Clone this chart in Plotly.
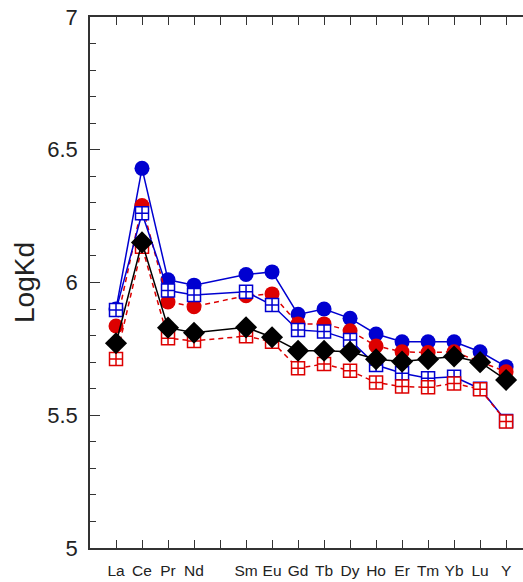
import plotly.graph_objects as go

elements = ["La", "Ce", "Pr", "Nd", "Pm", "Sm", "Eu", "Gd", "Tb", "Dy", "Ho", "Er", "Tm", "Yb", "Lu", "Y"]
x_pos = list(range(1, len(elements) + 1))
tick_text = ["" if e == "Pm" else e for e in elements]

N = None
blue_circle = [5.90, 6.43, 6.01, 5.99, N, 6.03, 6.04, 5.88, 5.90, 5.865, 5.806, 5.777, 5.777, 5.777, 5.739, 5.683]
red_circle = [5.836, 6.29, 5.927, 5.909, N, 5.95, 5.957, 5.844, 5.844, 5.818, 5.761, 5.739, 5.736, 5.739, 5.702, 5.664]
blue_square = [5.896, 6.261, 5.97, 5.953, N, 5.965, 5.915, 5.821, 5.815, 5.783, 5.689, 5.658, 5.639, 5.645, 5.60, 5.478]
red_square = [5.712, 6.135, 5.79, 5.78, N, 5.798, 5.777, 5.677, 5.693, 5.668, 5.623, 5.608, 5.605, 5.62, 5.598, 5.476]
black_diamond = [5.771, 6.151, 5.83, 5.811, N, 5.831, 5.794, 5.743, 5.743, 5.739, 5.711, 5.702, 5.711, 5.721, 5.70, 5.633]

BLUE = "#0000D0"
RED = "#DD0000"
BLACK = "#000000"

fig = go.Figure()

def add(y, color, symbol, size, dash, fill=None, lw=1.5):
    fig.add_trace(go.Scatter(
        x=x_pos, y=y, mode="lines+markers", connectgaps=True,
        line=dict(color=color, width=lw, dash=dash),
        marker=dict(symbol=symbol, size=size, color=fill if fill else color,
                    line=dict(color=color, width=1.5 if fill else 0)),
        showlegend=False, cliponaxis=False,
    ))

add(blue_circle, BLUE, "circle", 15, "solid")
add(red_circle, RED, "circle", 15, "5px,4px")
add(blue_square, BLUE, "square-cross", 13, "solid", fill="white")
add(red_square, RED, "square-cross", 13, "5px,4px", fill="white")
add(black_diamond, BLACK, "diamond", 17, "solid")

fig.update_layout(
    width=523, height=582,
    margin=dict(l=90, r=0, t=17, b=34),
    paper_bgcolor="white", plot_bgcolor="white",
    font=dict(family="Liberation Sans, Arial, sans-serif", color="#222222"),
    xaxis=dict(
        range=[0, 16.65], tickmode="array", tickvals=x_pos, ticktext=tick_text,
        ticks="inside", ticklen=8, tickwidth=1.2, tickcolor="#333333",
        showline=True, linecolor="#333333", linewidth=1.5, mirror="ticks",
        showgrid=False, zeroline=False,
        tickfont=dict(size=15.5, color="#222222"), ticklabelstandoff=8,
    ),
    yaxis=dict(
        range=[5, 7], tickmode="array", tickvals=[5, 5.5, 6, 6.5, 7],
        ticktext=["5", "5.5", "6", "6.5", "7"],
        ticks="inside", ticklen=10, tickwidth=1.2, tickcolor="#333333",
        minor=dict(tickmode="array", tickvals=[5.1, 5.2, 5.3, 5.4, 5.6, 5.7, 5.8, 5.9, 6.1, 6.2, 6.3, 6.4, 6.6, 6.7, 6.8, 6.9],
                   ticks="inside", ticklen=6, tickwidth=1.2, tickcolor="#333333", showgrid=False),
        showline=True, linecolor="#333333", linewidth=1.5, mirror=False,
        showgrid=False, zeroline=False,
        tickfont=dict(size=22, color="#222222"), ticklabelstandoff=6,
        title=dict(text="LogKd", font=dict(size=28, color="#222222"), standoff=4),
    ),
)

fig.write_html("out.html", config={"displayModeBar": False},
               post_script="document.body.style.margin='0px';")
